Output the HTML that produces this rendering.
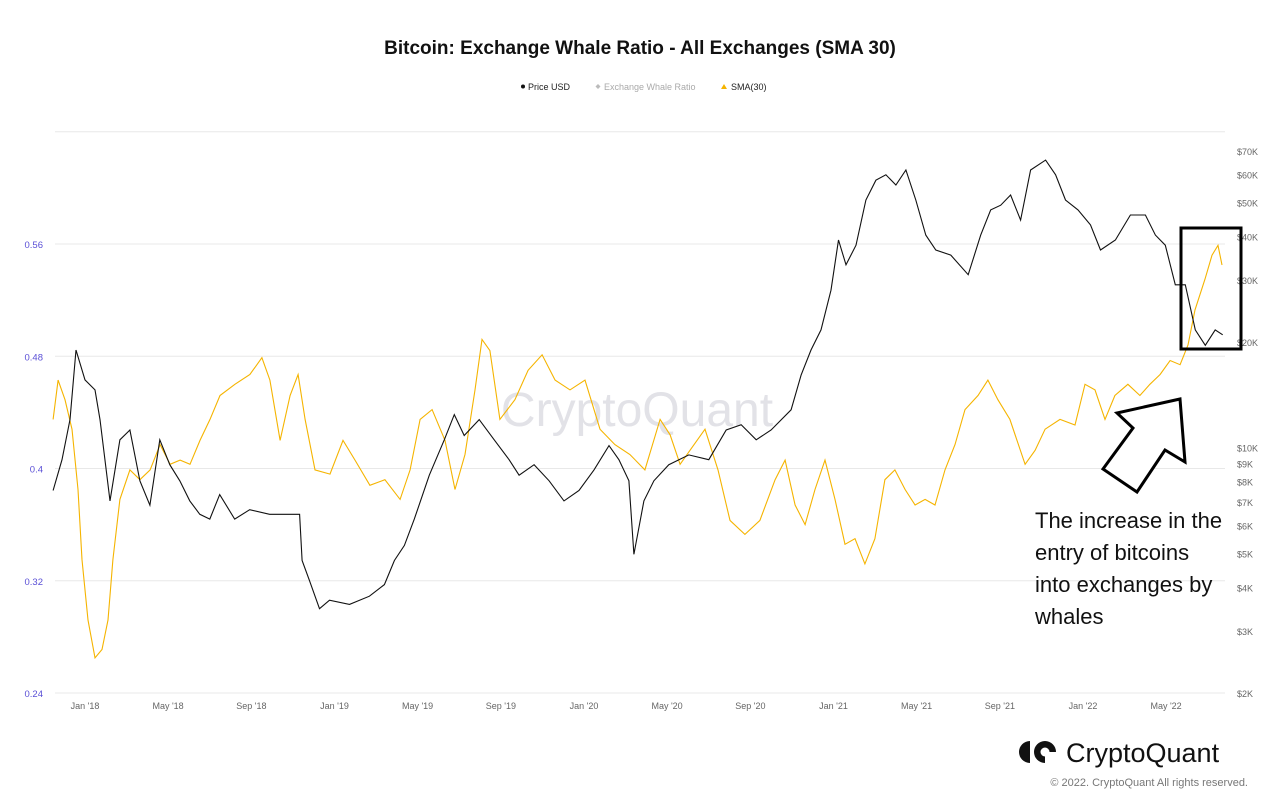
<!DOCTYPE html>
<html><head><meta charset="utf-8"><style>
body{margin:0;background:#fff;font-family:"Liberation Sans",sans-serif}
svg{display:block}
</style></head><body>
<svg id="chart" width="1280" height="806" viewBox="0 0 1280 806">
<text x="640" y="54" text-anchor="middle" font-size="19" font-weight="bold" fill="#111">Bitcoin: Exchange Whale Ratio - All Exchanges (SMA 30)</text>
<g font-size="9">
<g><circle cx="523" cy="86.5" r="2" fill="#111"/><text x="528" y="90" fill="#222">Price USD</text></g>
<g><path d="M598 84l2.5 2.5-2.5 2.5-2.5-2.5z" fill="#bbb"/><text x="604" y="90" fill="#aaa">Exchange Whale Ratio</text></g>
<g><path d="M724 84l3 5h-6z" fill="#f5b400"/><text x="731" y="90" fill="#222">SMA(30)</text></g>
</g>
<g id="grid"></g>
<text x="637" y="426" text-anchor="middle" font-size="48" fill="#e2e2e7">CryptoQuant</text>
<g id="axes" font-size="9.5"></g>
<g id="series"></g>
<rect x="1181" y="228" width="60" height="121" fill="none" stroke="#000" stroke-width="3"/>
<polygon points="1180,399 1185,462 1165,450 1137,492 1103,469 1133,428 1117,413" fill="#fff" stroke="#000" stroke-width="3" stroke-linejoin="miter"/>
<g font-size="22" fill="#111">
<text x="1035" y="528">The increase in the</text>
<text x="1035" y="560">entry of bitcoins</text>
<text x="1035" y="592">into exchanges by</text>
<text x="1035" y="624">whales</text>
</g>
<g>
<path d="M1030 741a11 11 0 0 0 0 22z" fill="#111"/>
<circle cx="1045" cy="752" r="11" fill="#111"/>
<path d="M1045 752h11v11h-11z" fill="#fff"/>
<circle cx="1045" cy="752" r="4.5" fill="#fff"/>
<text x="1066" y="762" font-size="27" fill="#111">CryptoQuant</text>
</g>
<text x="1248" y="786" text-anchor="end" font-size="11" fill="#777">© 2022. CryptoQuant All rights reserved.</text>
</svg>
<script>
// years since 2018-01-01
const priceT=[-0.128,-0.092,-0.060,-0.036,0,0.04,0.06,0.10,0.14,0.18,0.22,0.26,0.30,0.34,0.38,0.42,0.46,0.50,0.54,0.60,0.66,0.74,0.86,0.87,0.90,0.94,0.98,1.06,1.14,1.20,1.24,1.28,1.32,1.38,1.44,1.48,1.52,1.58,1.64,1.70,1.74,1.80,1.86,1.92,1.98,2.04,2.10,2.14,2.18,2.20,2.24,2.28,2.34,2.42,2.50,2.57,2.63,2.69,2.75,2.83,2.87,2.91,2.95,2.99,3.02,3.05,3.09,3.13,3.17,3.21,3.25,3.29,3.33,3.37,3.41,3.47,3.54,3.59,3.63,3.67,3.71,3.75,3.79,3.85,3.89,3.93,3.98,4.03,4.07,4.13,4.19,4.25,4.29,4.33,4.37,4.41,4.45,4.49,4.53,4.56];
const priceUSD=[7600,9300,12100,19100,15700,14700,12100,7100,10600,11300,8100,6900,10600,9000,8100,7100,6500,6300,7400,6300,6700,6500,6500,4800,4200,3500,3700,3600,3800,4100,4800,5300,6300,8400,10600,12500,10900,12100,10600,9300,8400,9000,8100,7100,7600,8700,10200,9300,8100,5000,7100,8100,9000,9600,9300,11300,11700,10600,11300,12900,16200,19100,21800,28300,39300,33400,38000,51100,58200,60300,56400,62200,51100,40600,36800,35600,31300,40600,47900,49400,52800,44800,62200,66400,60300,51100,47900,43400,36800,39300,46300,46300,40600,38000,29300,29300,21800,19700,21800,21100];
const smaT=[-0.128,-0.108,-0.080,-0.052,-0.028,-0.012,0.012,0.040,0.068,0.092,0.112,0.140,0.180,0.220,0.261,0.301,0.341,0.381,0.421,0.461,0.501,0.541,0.601,0.661,0.709,0.741,0.782,0.822,0.854,0.882,0.922,0.982,1.034,1.082,1.142,1.202,1.263,1.303,1.343,1.391,1.443,1.483,1.523,1.563,1.591,1.623,1.663,1.723,1.776,1.832,1.884,1.944,2.004,2.064,2.124,2.184,2.244,2.305,2.345,2.385,2.425,2.485,2.537,2.585,2.645,2.705,2.766,2.806,2.846,2.886,2.926,2.966,3.006,3.046,3.086,3.126,3.166,3.206,3.246,3.287,3.327,3.367,3.407,3.447,3.487,3.527,3.579,3.619,3.659,3.707,3.768,3.808,3.848,3.908,3.968,4.008,4.048,4.088,4.128,4.180,4.228,4.268,4.309,4.349,4.389,4.421,4.449,4.489,4.517,4.541,4.557];
const smaValues=[0.435,0.463,0.449,0.428,0.385,0.335,0.292,0.265,0.271,0.292,0.335,0.378,0.399,0.392,0.399,0.417,0.403,0.406,0.403,0.420,0.435,0.452,0.460,0.467,0.479,0.463,0.420,0.452,0.467,0.435,0.399,0.396,0.420,0.406,0.388,0.392,0.378,0.399,0.435,0.442,0.420,0.385,0.410,0.456,0.492,0.484,0.435,0.449,0.470,0.481,0.463,0.456,0.463,0.428,0.417,0.410,0.399,0.435,0.424,0.403,0.413,0.428,0.399,0.363,0.353,0.363,0.392,0.406,0.374,0.360,0.385,0.406,0.378,0.346,0.350,0.332,0.350,0.392,0.399,0.385,0.374,0.378,0.374,0.399,0.417,0.442,0.452,0.463,0.449,0.435,0.403,0.413,0.428,0.435,0.431,0.460,0.456,0.435,0.452,0.460,0.452,0.460,0.467,0.477,0.474,0.488,0.513,0.535,0.552,0.559,0.545];
const leftTicks=[0.24,0.32,0.4,0.48,0.56,0.64];
const leftTickLabels=["0.24","0.32","0.4","0.48","0.56",""];
const rightTicks=[2000,3000,4000,5000,6000,7000,8000,9000,10000,20000,30000,40000,50000,60000,70000];
const rightTickLabels=["$2K","$3K","$4K","$5K","$6K","$7K","$8K","$9K","$10K","$20K","$30K","$40K","$50K","$60K","$70K"];
const xTicks=[0,0.333,0.667,1,1.333,1.667,2,2.333,2.667,3,3.333,3.667,4,4.333];
const xTickLabels=["Jan '18","May '18","Sep '18","Jan '19","May '19","Sep '19","Jan '20","May '20","Sep '20","Jan '21","May '21","Sep '21","Jan '22","May '22"];

const NS="http://www.w3.org/2000/svg";
const X0=55,X1=1225;
const xs=t=>85+t*249.5;
const yL=v=>693-(v-0.24)/0.08*112.25;
const yR=p=>694-Math.log10(p/2000)*351;
function mk(tag,attrs,parent){const e=document.createElementNS(NS,tag);for(const k in attrs)e.setAttribute(k,attrs[k]);parent.appendChild(e);return e;}
const grid=document.getElementById('grid'),axes=document.getElementById('axes'),series=document.getElementById('series');
leftTicks.forEach((v,i)=>{
  const l=mk('line',{x1:X0,x2:X1,y1:yL(v),y2:yL(v),stroke:'#e8e8e8','stroke-width':1},grid);
  
  
  if(leftTickLabels[i]){const t=mk('text',{x:43,y:yL(v)+4,'text-anchor':'end',fill:'#5a4fd6'},axes);t.textContent=leftTickLabels[i];
  
  }
});
rightTicks.forEach((v,i)=>{
  const t=mk('text',{x:1237,y:yR(v)+3,fill:'#666','font-size':'9'},axes);t.textContent=rightTickLabels[i];
  
  
});
xTicks.forEach((v,i)=>{
  const t=mk('text',{x:xs(v),y:709,'text-anchor':'middle',fill:'#666','font-size':'9'},axes);t.textContent=xTickLabels[i];
  
  
});
const sp=mk('path',{d:smaT.map((t,i)=>(i?'L':'M')+xs(t).toFixed(1)+' '+yL(smaValues[i]).toFixed(1)).join(''),fill:'none',stroke:'#f5b400','stroke-width':1.1},series);


const pp=mk('path',{d:priceT.map((t,i)=>(i?'L':'M')+xs(t).toFixed(1)+' '+yR(priceUSD[i]).toFixed(1)).join(''),fill:'none',stroke:'#111','stroke-width':1.1},series);


</script>
</body></html>
